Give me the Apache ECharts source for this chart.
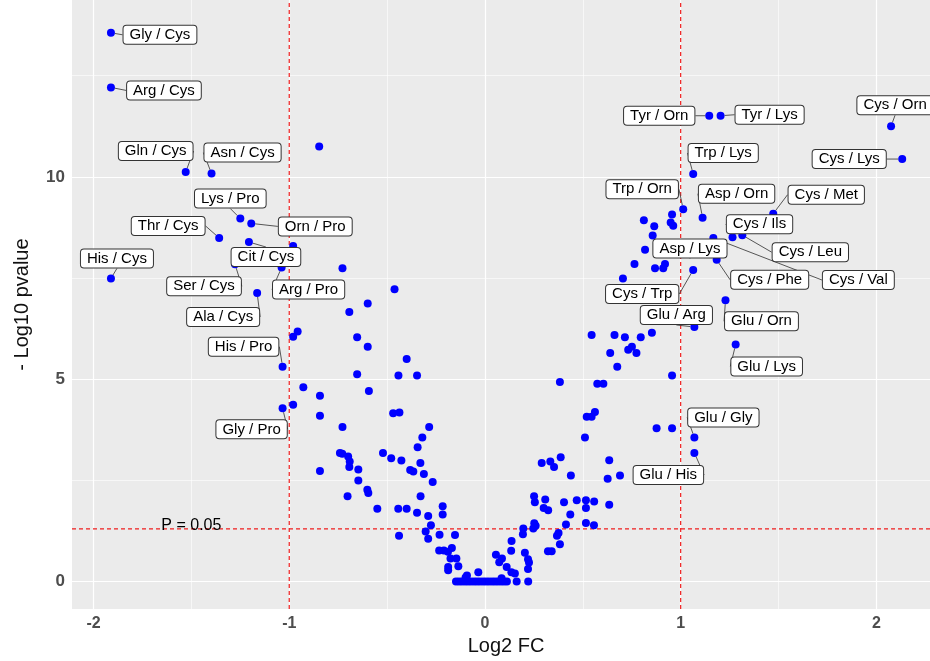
<!DOCTYPE html>
<html>
<head>
<meta charset="utf-8">
<script src="https://cdn.jsdelivr.net/npm/echarts@6/dist/echarts.min.js"></script>
<style>html,body{margin:0;padding:0;background:#fff;}#c{width:930px;height:661px;}</style>
</head>
<body>
<div id="c"></div>
<script>
// ---- data ----
const xTicks = [-2, -1, 0, 1, 2];
const yTicks = [0, 5, 10];
const fcCut = [-1, 1];
const pCut = 0.05;
const xRange = [-2.11, 2.274];
const yRange = [-0.68, 14.37];

const labeledNames = ['Gly / Cys','Arg / Cys','Gln / Cys','Asn / Cys','Lys / Pro','Orn / Pro','Thr / Cys','Cit / Cys','Ser / Cys','Arg / Pro','His / Cys','Ala / Cys','His / Pro','Gly / Pro',
  'Tyr / Orn','Tyr / Lys','Cys / Orn','Cys / Lys','Trp / Lys','Trp / Orn','Asp / Orn','Cys / Met','Cys / Ils','Cys / Leu','Cys / Val','Asp / Lys','Cys / Phe','Cys / Trp','Glu / Arg','Glu / Orn','Glu / Lys','Glu / Gly','Glu / His'];
const labeledFC = [-1.911,-1.911,-1.529,-1.397,-1.250,-1.194,-1.358,-1.206,-1.277,-1.039,-1.911,-1.164,-1.034,-1.034,
  1.146,1.204,2.075,2.132,1.064,1.013,1.112,1.473,1.265,1.315,1.167,1.073,1.184,1.064,1.070,1.229,1.281,1.070,1.070];
const labeledP = [13.56,12.21,10.12,10.08,8.97,8.85,8.49,8.39,7.84,7.76,7.49,7.13,5.31,4.28,
  11.51,11.51,11.25,10.44,10.07,9.20,8.99,9.09,8.51,8.56,8.49,8.18,7.95,7.70,6.29,6.95,5.86,3.56,3.18];

const otherFC = [-0.847,-0.980,-0.728,-0.462,-0.599,-0.693,-0.957,-0.980,-0.653,-0.599,-0.400,-0.653,-0.442,-0.347,-0.928,-0.843,-0.593,-0.980,-0.843,-0.469,
  -0.437,-0.728,-0.285,-0.320,-0.344,-0.741,-0.729,-0.699,-0.521,-0.479,-0.427,-0.330,-0.691,-0.693,-0.647,-0.382,-0.366,-0.312,-0.843,-0.647,
  -0.267,-0.601,-0.596,-0.702,-0.329,-0.550,-0.443,-0.400,-0.347,-0.290,-0.216,-0.216,-0.276,-0.303,-0.439,-0.290,-0.232,-0.153,-0.234,-0.210,
  -0.189,-0.169,-0.176,-0.146,-0.188,-0.188,-0.136,-0.034,-0.092,-0.099,
  -0.148,-0.133,-0.118,-0.102,-0.087,-0.072,-0.056,-0.041,-0.026,-0.010,0.005,0.020,0.036,0.051,0.066,0.082,0.097,0.112,0.162,0.221,
  0.085,0.056,0.087,0.073,0.111,0.135,0.153,0.134,0.136,0.204,0.220,0.225,0.220,0.196,0.194,0.252,0.259,0.247,0.251,0.255,
  0.308,0.300,0.323,0.290,0.334,0.353,0.387,0.439,0.404,0.469,0.516,0.558,0.516,0.635,0.436,0.414,0.516,0.557,0.376,0.368,
  0.383,0.322,0.341,0.635,0.627,0.690,0.511,0.520,0.545,0.562,0.877,0.956,0.383,0.574,0.605,0.676,0.956,0.545,0.662,0.715,
  0.796,0.853,0.640,0.732,0.751,0.774,0.705,0.764,0.869,0.911,0.920,0.818,0.857,0.812,0.865,0.956,0.949,0.962];
const otherP = [10.75,8.29,7.74,7.22,6.87,6.66,6.18,6.05,6.04,5.80,5.50,5.12,5.09,5.09,4.80,4.59,4.71,4.37,4.10,4.16,
  4.18,3.82,3.82,3.56,3.32,3.18,3.16,3.09,3.18,3.05,2.99,2.93,2.97,2.83,2.77,2.76,2.72,2.66,2.73,2.50,
  2.46,2.27,2.19,2.11,2.11,1.80,1.80,1.80,1.70,1.62,1.86,1.66,1.39,1.24,1.13,1.06,1.16,1.15,0.77,0.77,
  0.74,0.83,0.57,0.57,0.36,0.28,0.38,0.23,0.15,0.10,
  0,0,0,0,0,0,0,0,0,0,0,0,0,0,0,0,0,0,0,0,
  0.08,0.66,0.57,0.48,0.36,0.23,0.20,0.76,1.00,0.71,0.55,0.47,0.31,1.31,1.17,1.44,1.38,1.31,2.11,1.96,
  2.03,1.82,1.76,2.93,2.97,2.83,3.07,2.62,1.96,2.01,2.01,1.98,1.82,1.90,1.66,1.41,1.45,1.39,1.20,1.13,
  0.92,0.75,0.75,3.00,2.54,2.62,3.56,4.07,4.07,4.19,3.79,3.79,4.93,4.89,4.89,5.31,5.09,6.09,6.09,6.04,
  6.04,6.15,5.65,5.73,5.80,5.65,7.49,7.85,7.74,7.74,7.85,8.20,8.55,8.93,8.78,9.07,8.87,8.79];

// ---- label placement (pixel nudges, ggrepel-like) ----
const labelNudge = {
  'Gly / Cys':[49,2],'Arg / Cys':[53,3],'Gln / Cys':[-30,-21],'Asn / Cys':[31,-21],'Lys / Pro':[-10,-20],'Orn / Pro':[64,3],
  'Thr / Cys':[-51,-12],'Cit / Cys':[17,15],'Ser / Cys':[-31,22],'Arg / Pro':[27,22],'His / Cys':[6,-20],'Ala / Cys':[-34,24],
  'His / Pro':[-39,-20],'Gly / Pro':[-31,21],'Tyr / Orn':[-50,0],'Tyr / Lys':[49,-1],'Cys / Orn':[4,-21],'Cys / Lys':[-53,0],
  'Trp / Lys':[30,-21],'Trp / Orn':[-41,-20],'Asp / Orn':[34,-24],'Cys / Met':[53,-19],'Cys / Ils':[27,-13],'Cys / Leu':[68,17],
  'Cys / Val':[145,42],'Asp / Lys':[-5,-2],'Cys / Phe':[53,20],'Cys / Trp':[-51,24],'Glu / Arg':[-18,-12],'Glu / Orn':[36,21],
  'Glu / Lys':[31,22],'Glu / Gly':[29,-20],'Glu / His':[-26,22]
};

const FONT = '"Liberation Sans", Arial, sans-serif';
const pLine = -Math.log10(pCut);
const minorX = xTicks.slice(1).map((v, i) => (v + xTicks[i]) / 2);
const minorY = yTicks.slice(1).map((v, i) => (v + yTicks[i]) / 2).concat([yTicks[yTicks.length - 1] + (yTicks[1] - yTicks[0]) / 2]);

const gridLines = [];
xTicks.forEach(v => gridLines.push({xAxis: v, lineStyle: {width: 1.2}}));
minorX.forEach(v => gridLines.push({xAxis: v, lineStyle: {width: 0.6}}));
yTicks.forEach(v => gridLines.push({yAxis: v, lineStyle: {width: 1.2}}));
minorY.forEach(v => gridLines.push({yAxis: v, lineStyle: {width: 0.6}}));

function cutSeries(pts) {
  return {
    type: 'line', z: 2, silent: true, symbol: 'none', showSymbol: false,
    lineStyle: {color: '#F01E1E', width: 1.2, type: [4, 3], opacity: 1},
    data: pts
  };
}
const cutSeriesList = fcCut.map(v => cutSeries([[v, yRange[0]], [v, yRange[1]]]))
  .concat([cutSeries([[xRange[0], pLine], [xRange[1], pLine]])]);

const chart = echarts.init(document.getElementById('c'), null, {renderer: 'canvas'});
chart.setOption({
  animation: false,
  backgroundColor: '#ffffff',
  grid: {left: 72, right: 0, top: 0, bottom: 48, show: true, backgroundColor: '#EBEBEB', borderWidth: 0},
  xAxis: {
    type: 'value', min: xRange[0], max: xRange[1],
    name: 'Log2 FC', nameLocation: 'middle', nameGap: 25,
    nameTextStyle: {fontFamily: FONT, fontSize: 20, color: '#111', padding: [0, 0, 0, 10]},
    axisLine: {show: false},
    axisTick: {show: true, customValues: xTicks, length: 4, lineStyle: {color: '#333', width: 1}},
    axisLabel: {customValues: xTicks, fontFamily: FONT, fontSize: 16, fontWeight: 'bold', color: '#4D4D4D', margin: 6},
    splitLine: {show: false}
  },
  yAxis: {
    type: 'value', min: yRange[0], max: yRange[1],
    name: '- Log10 pvalue', nameLocation: 'middle', nameGap: 40,
    nameTextStyle: {fontFamily: FONT, fontSize: 20, color: '#111'},
    axisLine: {show: false},
    axisTick: {show: true, customValues: yTicks, length: 4, lineStyle: {color: '#333', width: 1}},
    axisLabel: {customValues: yTicks, fontFamily: FONT, fontSize: 17, fontWeight: 'bold', color: '#4D4D4D', margin: 7},
    splitLine: {show: false}
  },
  series: [
    {
      type: 'scatter', z: 1, symbolSize: 0, silent: true, data: [],
      markLine: {z: 1, silent: true, symbol: ['none', 'none'], label: {show: false},
        lineStyle: {color: '#ffffff', type: 'solid', opacity: 1}, data: gridLines}
    }
  ].concat(cutSeriesList).concat([
    {
      type: 'scatter', z: 2.5, symbolSize: 0, silent: true,
      itemStyle: {opacity: 1},
      data: [[-1.5, pLine + 0.08]],
      label: {show: true, position: 'inside', formatter: 'P = 0.05', fontFamily: FONT, fontSize: 16, color: '#000', opacity: 1}
    },
    {
      type: 'scatter', z: 3, symbolSize: 8, silent: true,
      itemStyle: {color: '#0000FF', opacity: 1},
      data: otherFC.map((v, i) => [v, otherP[i]])
    },
    {
      type: 'scatter', z: 4, symbolSize: 8, silent: true,
      itemStyle: {color: '#0000FF', opacity: 1},
      data: labeledFC.map((v, i) => ({name: labeledNames[i], value: [v, labeledP[i]]})),
      label: {
        show: true, position: 'inside', formatter: '{b}',
        fontFamily: FONT, fontSize: 15, color: '#000', opacity: 1,
        backgroundColor: '#ffffff', borderColor: '#333', borderWidth: 1, borderRadius: 3,
        padding: [2, 6, 1, 6]
      },
      labelLine: {show: true, lineStyle: {color: '#444', width: 0.9, opacity: 1}},
      labelLayout: function (p) {
        const o = labelNudge[labeledNames[p.dataIndex]] || [0, 0];
        return {dx: o[0], dy: o[1], hideOverlap: false};
      }
    }
  ])
});
</script>
</body>
</html>
